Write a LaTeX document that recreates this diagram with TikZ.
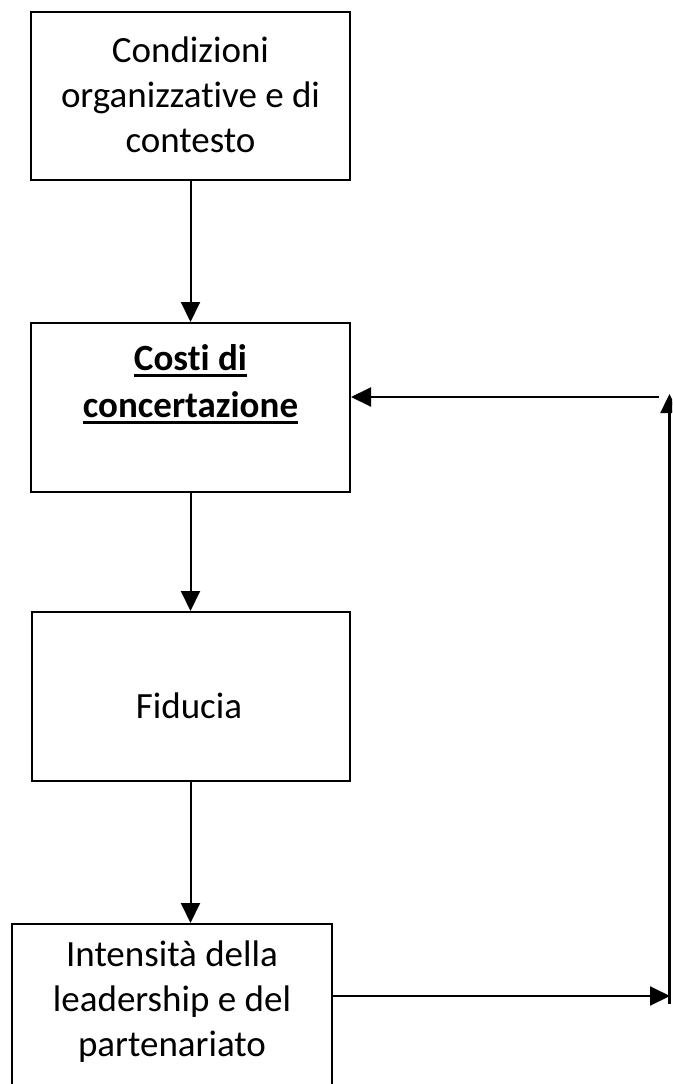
\documentclass[tikz,border=0pt]{standalone}
\usepackage{fontspec}
\setmainfont[Ligatures={NoCommon,NoContextual},RawFeature={-liga;-clig;-calt;-dlig}]{Carlito}
\newcommand\myuline[1]{\leavevmode\setbox0\hbox{#1}\rlap{\vrule width\wd0 height -3.5pt depth 6.5pt}\box0}
\usetikzlibrary{arrows.meta}
\tikzset{
  box/.style={draw=black, line width=2pt, rectangle, inner sep=0pt, fill=white},
  txt/.style={align=center, font=\fontsize{37}{45}\selectfont, inner sep=0pt},
  conn/.style={line width=2pt, -{Triangle[length=20pt,width=19pt]}},
}
\begin{document}
\begin{tikzpicture}[x=1pt,y=-1pt]
\useasboundingbox (0,0) rectangle (672,1084);
\clip (0,0) rectangle (672,1084);
\fill[white] (0,0) rectangle (672,1084);
% boxes
\node[box, minimum width=319pt, minimum height=168pt] (b1) at (190.5,96) {};
\node[box, minimum width=319pt, minimum height=169pt] (b2) at (190.5,407.5) {};
\node[box, minimum width=318pt, minimum height=169pt] (b3) at (190.5,696.5) {};
\node[box, minimum width=320pt, minimum height=200pt] (b4) at (172,1024) {};
% texts
\node[txt] (t1) at (190.5,95) {Condizioni\\organizzative e di\\contesto};
\node[txt, font=\fontsize{37}{47}\selectfont\bfseries] (t2) at (190.5,384) {\myuline{Costi di}\\\myuline{concertazione}};
\node[txt] (t3) at (189,706) {Fiducia};
\node[txt] (t4) at (172,1002) {Intensità della\\leadership e del\\partenariato};
% vertical connectors
\draw[conn] (b1.south) -- (b2.north);
\draw[conn] (b2.south) -- (b3.north);
\draw[conn] (b3.south) -- (b3.south |- b4.north);
% feedback loop
\coordinate (h1) at (659,397);
\coordinate (v0) at (669.5,1004);
\coordinate (v1) at (669.5,394);
\coordinate (h2) at (670,996);
\draw[conn] (h1) -- (b2.east |- h1);
\draw[conn] (b4.east |- h2) -- (h2);
\draw[line width=2.5pt, -{Triangle[length=19pt,width=18pt]}] (v0) -- (v1);
\end{tikzpicture}
\end{document}
